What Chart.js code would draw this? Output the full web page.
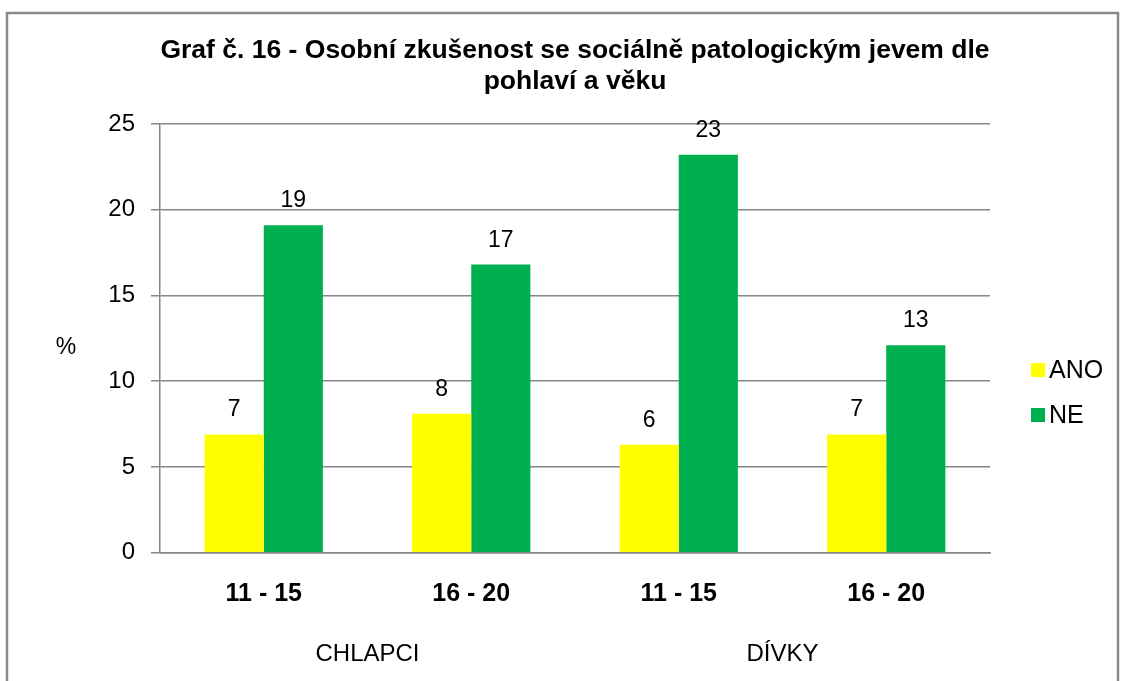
<!DOCTYPE html>
<html>
<head>
<meta charset="utf-8">
<script src="https://cdn.jsdelivr.net/npm/chart.js@4"></script>
<style>
html,body{margin:0;padding:0;background:#fff;}
canvas{display:block;}
</style>
</head>
<body>
<canvas id="c" width="1122" height="681"></canvas>
<script>
const titleLines = ['Graf č. 16 - Osobní zkušenost se sociálně patologickým jevem dle', 'pohlaví a věku'];
const categories = ['11 - 15', '16 - 20', '11 - 15', '16 - 20'];
const groups = ['CHLAPCI', 'DÍVKY'];
const seriesNames = ['ANO', 'NE'];
const anoValues = [6.9, 8.1, 6.3, 6.9];
const neValues = [19.1, 16.8, 23.2, 12.1];
const anoLabels = ['7', '8', '6', '7'];
const neLabels = ['19', '17', '23', '13'];
const yMin = 0, yMax = 25, yStep = 5;
const yAxisLabel = '%';

const FONT = '"Liberation Sans", Arial, sans-serif';
const GRID = '#868686';

const overlay = {
  id: 'overlay',
  afterDraw(chart) {
    const ctx = chart.ctx;
    const ca = chart.chartArea;
    ctx.save();
    // frame
    ctx.strokeStyle = '#8a8a8a';
    ctx.lineWidth = 2.5;
    ctx.strokeRect(7, 13, 1111, 700);
    // title
    ctx.fillStyle = '#000';
    ctx.textAlign = 'center';
    ctx.textBaseline = 'alphabetic';
    ctx.font = 'bold 26.5px ' + FONT;
    const cx = (ca.left + ca.right) / 2;
    ctx.fillText(titleLines[0], cx, 58);
    ctx.fillText(titleLines[1], cx, 89);
    // y axis label
    ctx.font = '23px ' + FONT;
    ctx.fillText(yAxisLabel, 66, 354);
    // data labels
    const labelSets = [anoLabels, neLabels];
    chart.data.datasets.forEach((ds, i) => {
      const meta = chart.getDatasetMeta(i);
      meta.data.forEach((bar, j) => {
        ctx.fillText(labelSets[i][j], bar.x, bar.y - 18);
      });
    });
    // legend
    ctx.textAlign = 'left';
    ctx.textBaseline = 'middle';
    ctx.font = '25px ' + FONT;
    const ly = [370, 415];
    chart.data.datasets.forEach((ds, i) => {
      ctx.fillStyle = ds.backgroundColor;
      ctx.fillRect(1031, ly[i] - 7, 14, 14);
      ctx.fillStyle = '#000';
      ctx.fillText(ds.label, 1049, ly[i] + 1);
    });
    ctx.restore();
  }
};

new Chart(document.getElementById('c'), {
  type: 'bar',
  data: {
    labels: categories,
    datasets: [
      { label: seriesNames[0], data: anoValues, backgroundColor: '#FFFF00', categoryPercentage: 0.57, barPercentage: 1 },
      { label: seriesNames[1], data: neValues, backgroundColor: '#00B050', categoryPercentage: 0.57, barPercentage: 1 }
    ]
  },
  options: {
    responsive: false,
    animation: false,
    devicePixelRatio: 1,
    layout: { padding: { top: 124, right: 132, left: 0, bottom: 0 } },
    plugins: { legend: { display: false }, title: { display: false }, tooltip: { enabled: false } },
    scales: {
      y: {
        min: yMin, max: yMax,
        afterFit(s) { s.width = 160; },
        ticks: { stepSize: yStep, color: '#000', padding: 16, font: { family: FONT, size: 24 } },
        grid: { color: GRID, lineWidth: 1.5, tickLength: 9, drawTicks: true },
        border: { display: true, color: GRID, width: 1.5 }
      },
      x: {
        afterFit(s) { s.height = 58; },
        grid: { display: false, drawTicks: false },
        border: { display: true, color: GRID, width: 1.5 },
        ticks: { color: '#000', padding: 26, font: { family: FONT, size: 25, weight: 'bold' } }
      },
      x2: {
        type: 'category',
        labels: groups,
        position: 'bottom',
        offset: true,
        afterFit(s) { s.height = 70.3; },
        grid: { display: false, drawTicks: false },
        border: { display: false },
        ticks: { color: '#000', padding: 29, font: { family: FONT, size: 24 } }
      }
    }
  },
  plugins: [overlay]
});
</script>
</body>
</html>
